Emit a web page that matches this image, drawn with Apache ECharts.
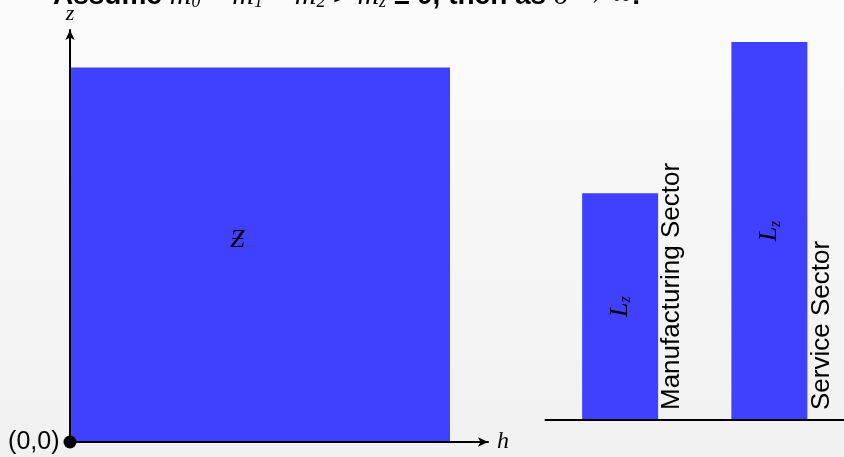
<!DOCTYPE html>
<html>
<head>
<meta charset="utf-8">
<script src="https://cdn.jsdelivr.net/npm/echarts@6/dist/echarts.min.js"></script>
<style>
html,body{margin:0;padding:0;}
#chart{width:844px;height:457px;background:linear-gradient(#fbfbfb,#f1f1f1);}
</style>
</head>
<body>
<div id="chart"></div>
<script>
// region Z: extent along h and z
var squareH = 1;
var squareZ = 1;
// right panel: two sectors and their L_z heights
var sectors = ['Manufacturing Sector', 'Service Sector'];
var laborZ = [0.6, 1.0];

var blue = '#4040ff';
var sans = '"Liberation Sans", Arial, sans-serif';
var serif = '"Liberation Serif", "DejaVu Serif", serif';

var chart = echarts.init(document.getElementById('chart'));

var option = {
  backgroundColor: 'transparent',
  animation: false,
  title: {
    left: 53,
    top: -19,
    padding: 0,
    text: '{t|Assume }{m|m}{s|0}{t| = }{m|m}{s|1}{t| = }{m|m}{s|2}{t| > }{m|m}{s|z}{t| ≥ 0, then as }{m|δ}{t| → ∞:}',
    textStyle: {
      rich: {
        t: {fontFamily: sans, fontSize: 28, color: '#000', lineHeight: 30},
        m: {fontFamily: serif, fontStyle: 'italic', fontWeight: 'normal', fontSize: 30, color: '#000', lineHeight: 30},
        s: {fontFamily: serif, fontStyle: 'italic', fontWeight: 'normal', fontSize: 18, color: '#000', verticalAlign: 'bottom', lineHeight: 30}
      }
    }
  },
  grid: [
    {left: 70, top: 30, width: 418, height: 412},
    {left: 545.5, top: 42, width: 302, height: 378}
  ],
  xAxis: [
    {
      gridIndex: 0, type: 'value', min: 0, max: 1.1, z: 5,
      name: 'h', nameGap: 9,
      nameTextStyle: {fontFamily: serif, fontStyle: 'italic', fontSize: 24, color: '#000'},
      axisLine: {symbol: ['none', 'arrow'], symbolSize: [7, 10], lineStyle: {color: '#000', width: 2}},
      axisTick: {show: false}, axisLabel: {show: false}, splitLine: {show: false}
    },
    {
      gridIndex: 1, type: 'category', data: sectors, z: 5,
      axisLine: {lineStyle: {color: '#000', width: 2}},
      axisTick: {show: false}, axisLabel: {show: false}
    }
  ],
  yAxis: [
    {
      gridIndex: 0, type: 'value', min: 0, max: 1.1, z: 5,
      name: 'z', nameGap: 5,
      nameTextStyle: {fontFamily: serif, fontStyle: 'italic', fontSize: 22, color: '#000'},
      axisLine: {symbol: ['none', 'arrow'], symbolSize: [7, 10], lineStyle: {color: '#000', width: 2}},
      axisTick: {show: false}, axisLabel: {show: false}, splitLine: {show: false}
    },
    {
      gridIndex: 1, type: 'value', min: 0, max: 1, show: false
    }
  ],
  series: [
    {
      type: 'custom', xAxisIndex: 0, yAxisIndex: 0, z: 1,
      data: [[0, 0, squareH, squareZ]],
      renderItem: function (params, api) {
        var p0 = api.coord([api.value(0), api.value(1)]);
        var p1 = api.coord([api.value(2), api.value(3)]);
        var c = api.coord([api.value(2) * 0.44, api.value(3) * 0.54]);
        return {
          type: 'group',
          children: [
            {type: 'rect', shape: {x: p0[0] + 1, y: p1[1], width: p1[0] - p0[0] - 1, height: p0[1] - p1[1]}, style: {fill: blue}},
            {type: 'text', x: c[0], y: c[1], style: {text: 'Ƶ', font: 'italic 26px ' + serif, fill: '#000', align: 'center', verticalAlign: 'middle'}}
          ]
        };
      }
    },
    {
      type: 'scatter', xAxisIndex: 0, yAxisIndex: 0, z: 10, clip: false,
      data: [[0, 0]], symbolSize: 13,
      itemStyle: {color: '#000', opacity: 1},
      label: {show: true, position: 'left', distance: 4, formatter: '(0,0)', fontFamily: sans, fontSize: 25, color: '#000'}
    },
    {
      type: 'bar', xAxisIndex: 1, yAxisIndex: 1, barWidth: 76, barGap: '-100%',
      data: laborZ,
      itemStyle: {color: blue},
      label: {
        show: true, position: 'inside', rotate: 90,
        formatter: '{L|L}{z|z}',
        rich: {
          L: {fontFamily: serif, fontStyle: 'italic', fontSize: 26, color: '#000', lineHeight: 28},
          z: {fontFamily: serif, fontStyle: 'italic', fontSize: 16, color: '#000', verticalAlign: 'bottom', lineHeight: 28}
        }
      }
    },
    {
      type: 'bar', xAxisIndex: 1, yAxisIndex: 1, barWidth: 76, barGap: '-100%',
      data: laborZ,
      itemStyle: {color: 'transparent'},
      label: {
        show: true, position: [90, '100%'], rotate: 90,
        align: 'left', verticalAlign: 'middle', padding: [0, 0, 0, 10],
        formatter: '{b}', fontFamily: sans, fontSize: 26, color: '#000'
      }
    }
  ]
};
chart.setOption(option);
</script>
</body>
</html>
